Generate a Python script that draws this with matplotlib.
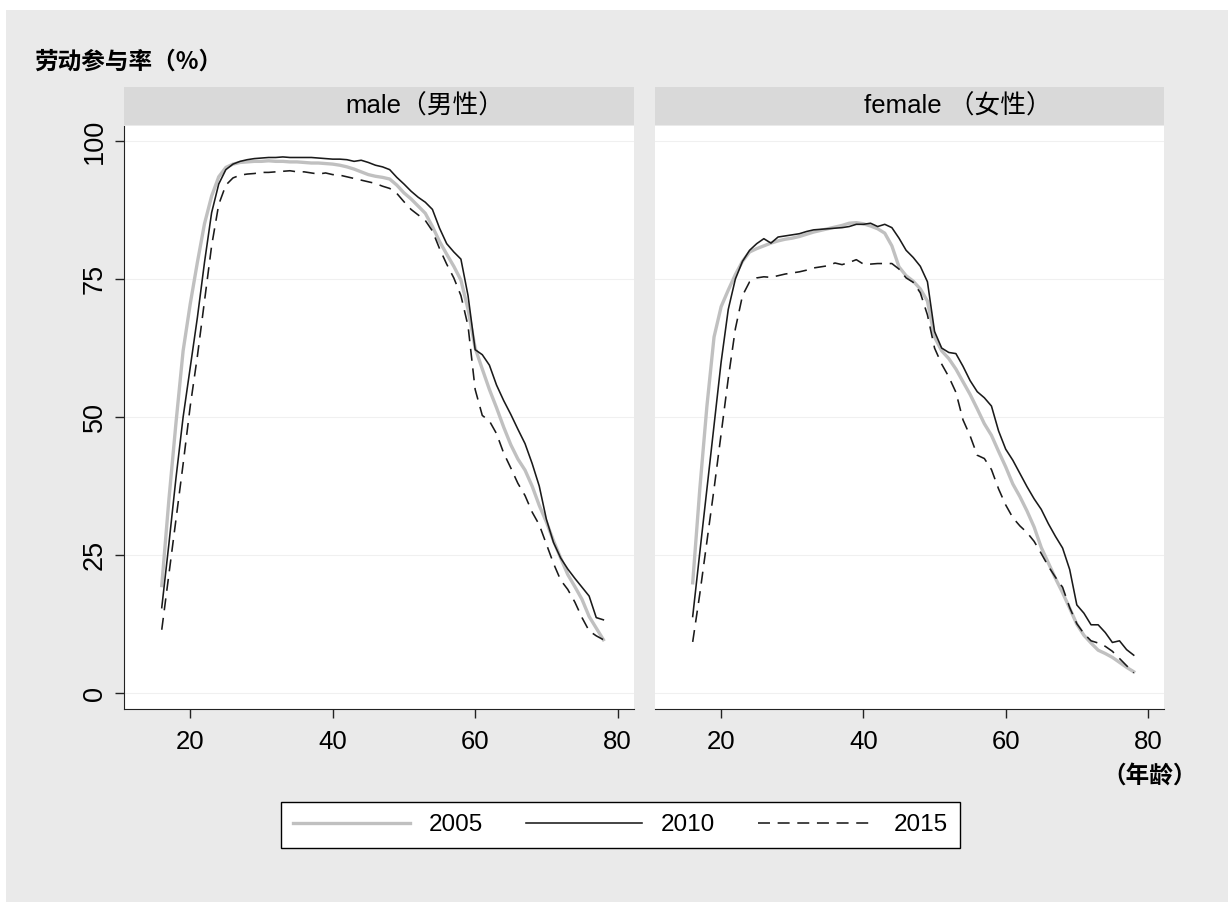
import matplotlib
matplotlib.use("Agg")
import matplotlib.pyplot as plt
from matplotlib.patches import Rectangle
from matplotlib.lines import Line2D

plt.rcParams['font.family'] = ['Liberation Sans', 'Noto Sans CJK SC']

# ---- data ----
ages = list(range(16, 79))
years = ['2005', '2010', '2015']

male_2005 = [19.5, 35, 49, 62, 70.5, 78, 85, 90, 93.5, 95.2, 95.8, 96.1, 96.2, 96.3, 96.3,
             96.4, 96.3, 96.3, 96.2, 96.2, 96.1, 96.0, 96.0, 95.9, 95.8, 95.6, 95.3, 94.9,
             94.4, 93.9, 93.6, 93.4, 93.1, 92.0, 90.6, 89.5, 88.2, 86.9, 84.5, 81.8, 79.5,
             77.3, 74.8, 69.5, 62.5, 58.7, 55.0, 51.7, 48.2, 45.0, 42.4, 40.4, 37.5, 34.0,
             31.0, 27.6, 24.5, 21.5, 19.3, 17.0, 13.9, 11.8, 9.7]
male_2010 = [15.5, 27, 39, 50, 59, 68, 78, 87, 92.2, 94.8, 95.8, 96.3, 96.6, 96.8, 96.9,
             97.0, 97.0, 97.1, 97.0, 97.0, 97.0, 97.0, 96.9, 96.8, 96.7, 96.7, 96.6, 96.3,
             96.5, 96.1, 95.6, 95.3, 94.8, 93.4, 92.2, 90.9, 89.8, 88.9, 87.6, 84.2, 81.4,
             79.9, 78.6, 72.0, 62.2, 61.3, 59.4, 55.8, 53.0, 50.5, 47.8, 45.2, 41.6, 37.5,
             31.5, 27.3, 24.5, 22.5, 20.8, 19.2, 17.6, 13.7, 13.3]
male_2015 = [11.5, 21.5, 31.5, 41.5, 52, 61, 71, 81, 88.5, 92, 93.3, 93.8, 94.0, 94.1, 94.3,
             94.3, 94.4, 94.5, 94.6, 94.4, 94.4, 94.2, 94.0, 94.2, 93.9, 93.8, 93.5, 93.2,
             92.9, 92.6, 92.3, 91.8, 91.4, 90.5, 89.0, 87.6, 86.6, 85.6, 83.7, 80.5, 77.7,
             75.2, 72.0, 66.5, 55.0, 50.3, 49.3, 47.0, 43.5, 40.8, 38.0, 35.8, 32.8, 30.5,
             27.0, 23.5, 20.5, 18.8, 16.5, 13.7, 11.3, 10.4, 9.7]

female_2005 = [20, 37, 52, 64.5, 70, 73, 75.8, 78.2, 79.9, 80.5, 81.0, 81.5, 81.9, 82.2, 82.4,
               82.7, 83.1, 83.5, 83.8, 84.1, 84.4, 84.7, 85.1, 85.2, 85.0, 84.6, 84.1, 83.3,
               81.0, 77.2, 75.6, 74.6, 73.2, 71.0, 64.5, 62.0, 60.6, 58.7, 56.4, 54.1, 51.5,
               48.8, 46.7, 43.8, 41.0, 37.9, 35.6, 33.0, 30.1, 26.4, 23.6, 20.8, 18.2, 15.4,
               12.5, 10.5, 9.1, 7.8, 7.2, 6.5, 5.6, 4.7, 3.9]
female_2010 = [13.9, 25.5, 37, 48.5, 60, 69.5, 75, 78.2, 80.2, 81.4, 82.3, 81.5, 82.6, 82.8,
               83.0, 83.2, 83.6, 83.9, 84.0, 84.1, 84.2, 84.3, 84.5, 84.9, 84.9, 85.1, 84.5,
               84.9, 84.3, 82.4, 80.2, 78.9, 77.3, 74.5, 65.5, 62.5, 61.7, 61.5, 59.2, 56.6,
               54.6, 53.5, 52.0, 47.5, 44.2, 42.2, 39.8, 37.4, 35.2, 33.3, 30.7, 28.4, 26.3,
               22.4, 16.0, 14.5, 12.4, 12.4, 11.0, 9.2, 9.5, 7.9, 6.9]
female_2015 = [9.3, 18, 27.5, 37, 47, 57, 66, 72, 74.5, 75.2, 75.4, 75.3, 75.6, 75.9, 76.1,
               76.3, 76.6, 77.0, 77.2, 77.4, 77.9, 77.6, 78.0, 78.5, 77.7, 77.7, 77.8, 77.8,
               77.8, 76.8, 75.2, 74.4, 72.5, 68.5, 62.5, 59.6, 57.3, 54.5, 49.5, 46.6, 43.1,
               42.5, 40.5, 37.0, 34.1, 31.8, 30.3, 29.1, 27.5, 25.3, 23.0, 21.0, 19.2, 15.5,
               12.6, 10.8, 9.5, 9.1, 8.5, 7.6, 6.3, 5.0, 3.7]

panel_titles = ['male（男性）', 'female （女性）']
y_ticks = [0, 25, 50, 75, 100]
x_ticks = [20, 40, 60, 80]
y_title = '劳动参与率（%）'
x_title = '（年龄）'

panels = [
    {'2005': male_2005, '2010': male_2010, '2015': male_2015},
    {'2005': female_2005, '2010': female_2010, '2015': female_2015},
]

styles = {
    '2005': dict(color='#c0c0c0', lw=2.4, ls='-'),
    '2010': dict(color='#1a1a1a', lw=1.15, ls='-'),
    '2015': dict(color='#1a1a1a', lw=1.15, ls=(0, (7.5, 4.8))),
}

W, H = 1228, 902
BG = '#eaeaea'
FS = 18.5      # header / x ticks
FS_Y = 19.5    # rotated y ticks
FS_LEG = 17.5

def box(x0, y0, x1, y1):
    # pixel box (top-left origin) -> figure fraction rect
    return [x0 / W, 1 - y1 / H, (x1 - x0) / W, (y1 - y0) / H]


fig = plt.figure(figsize=(W / 100, H / 100), dpi=100)
fig.patch.set_facecolor('white')
fig.patches.append(Rectangle((6 / W, 0), 1 - 6 / W, 1 - 10 / H, transform=fig.transFigure,
                             facecolor=BG, edgecolor='none', zorder=-10))

plot_boxes = [(124, 126, 634, 709.3), (655, 126, 1164.3, 709.3)]
title_x = [425, 958]

for i, (pb, data) in enumerate(zip(plot_boxes, panels)):
    ax = fig.add_axes(box(*pb))
    ax.set_facecolor('white')
    for yr in years:
        ax.plot(ages, data[yr], **styles[yr])
    ax.set_xlim(10.7, 82.3)
    ax.set_ylim(-2.9, 102.7)
    ax.set_xticks(x_ticks)
    ax.set_yticks(y_ticks)
    ax.yaxis.grid(True, color='#f0f0f0', lw=0.8)
    ax.set_axisbelow(True)
    for s in ['top', 'right']:
        ax.spines[s].set_visible(False)
    ax.spines['bottom'].set_color('#222222')
    ax.spines['left'].set_color('#222222')
    ax.tick_params(axis='x', length=6.8, width=1, color='#222222', pad=8, labelsize=FS)
    if i == 0:
        ax.tick_params(axis='y', length=6.8, width=1, color='#222222', pad=5,
                       labelsize=FS_Y, labelrotation=90)
        for lab in ax.get_yticklabels():
            lab.set_va('center')
    else:
        ax.spines['left'].set_visible(False)
        ax.tick_params(axis='y', length=0, labelleft=False)

    # strip header
    hx = fig.add_axes(box(pb[0], 87, pb[2], 125))
    hx.set_facecolor('#d9d9d9')
    hx.set_xticks([])
    hx.set_yticks([])
    for s in hx.spines.values():
        s.set_visible(False)
    fig.text(title_x[i] / W, 1 - 106 / H, panel_titles[i], ha='center', va='center', fontsize=FS)

fig.text(34 / W, 1 - 62 / H, y_title, ha='left', va='center', fontsize=17,
         family=['Noto Sans CJK SC', 'DejaVu Sans'], weight='bold')
fig.text(1150 / W, 1 - 776 / H, x_title, ha='center', va='center', fontsize=17,
         family=['Noto Sans CJK SC', 'DejaVu Sans'], weight='bold')

handles = [Line2D([], [], **styles[yr]) for yr in years]
leg = fig.legend(handles, years, loc='center', bbox_to_anchor=(620.4 / W, 1 - 825 / H),
                 ncol=3, frameon=True, fancybox=False, edgecolor='black', framealpha=1,
                 handlelength=4.8, handletextpad=0.78, columnspacing=1.75, borderpad=0.5,
                 fontsize=FS_LEG)
leg.get_frame().set_linewidth(1.0)

fig.savefig('out.png', dpi=100, facecolor=fig.get_facecolor())
